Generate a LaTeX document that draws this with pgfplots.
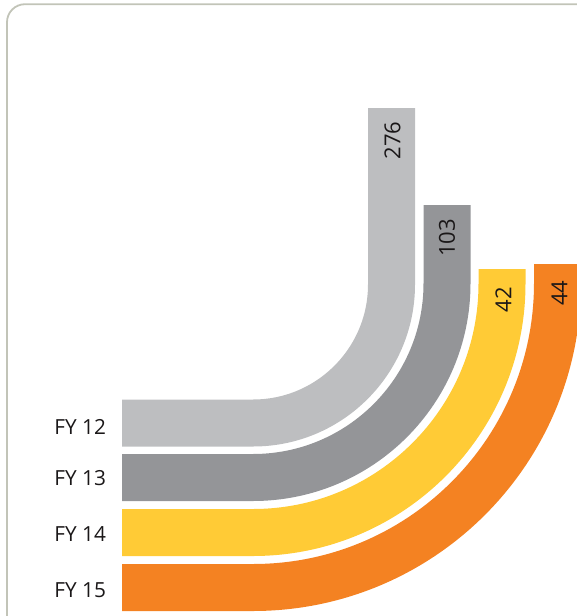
\documentclass[border=0pt]{standalone}
\usepackage{pgfplots}
\pgfplotsset{compat=1.18}
\usepackage{fontspec}
\setmainfont{Open Sans}
\definecolor{gA}{HTML}{BDBEC0}
\definecolor{gB}{HTML}{949598}
\definecolor{yC}{HTML}{FFCB36}
\definecolor{oD}{HTML}{F48222}
\definecolor{frame}{HTML}{C2C4B8}
\definecolor{txt}{HTML}{1A1718}
\begin{document}
\begin{tikzpicture}
\begin{axis}[
  width=288.5pt, height=308pt, scale only axis,
  xmin=0, xmax=577, ymin=0, ymax=616, y dir=reverse,
  hide axis, clip=true,
]
% frame
\addplot[draw=frame, line width=0.9pt, rounded corners=9pt] coordinates {(7,800) (7,4.2) (800,4.2)};
% bands (pixel geometry, concentric corners)
\addplot[draw=gA, line width=23.5pt, line cap=butt, rounded corners=69.25pt] coordinates {(122,423) (391.5,423) (391.5,108)};
\addplot[draw=gB, line width=23.5pt, line cap=butt, rounded corners=97pt] coordinates {(122,477.5) (447,477.5) (447,205)};
\addplot[draw=yC, line width=23.5pt, line cap=butt, rounded corners=124.5pt] coordinates {(122,532.5) (502,532.5) (502,269)};
\addplot[draw=oD, line width=23.5pt, line cap=butt, rounded corners=152.25pt] coordinates {(122,587.5) (557.5,587.5) (557.5,264)};
% category labels
\node[anchor=west, inner sep=0pt, text=txt, font=\fontsize{10.4}{12}\selectfont] at (axis cs:54,427) {FY 12};
\node[anchor=west, inner sep=0pt, text=txt, font=\fontsize{10.4}{12}\selectfont] at (axis cs:54,478.5) {FY 13};
\node[anchor=west, inner sep=0pt, text=txt, font=\fontsize{10.4}{12}\selectfont] at (axis cs:54,534) {FY 14};
\node[anchor=west, inner sep=0pt, text=txt, font=\fontsize{10.4}{12}\selectfont] at (axis cs:54,590) {FY 15};
% values
\node[rotate=90, inner sep=0pt, text=txt, font=\fontsize{11}{12}\selectfont] at (axis cs:392.5,140.5) {276};
\node[rotate=90, inner sep=0pt, text=txt, font=\fontsize{11}{12}\selectfont] at (axis cs:447,238) {103};
\node[rotate=90, inner sep=0pt, text=txt, font=\fontsize{11}{12}\selectfont] at (axis cs:503.5,299.5) {42};
\node[rotate=90, inner sep=0pt, text=txt, font=\fontsize{11}{12}\selectfont] at (axis cs:559.5,293) {44};
\end{axis}
\pgfresetboundingbox
\useasboundingbox (current axis.south west) rectangle (current axis.north east);
\end{tikzpicture}
\end{document}
